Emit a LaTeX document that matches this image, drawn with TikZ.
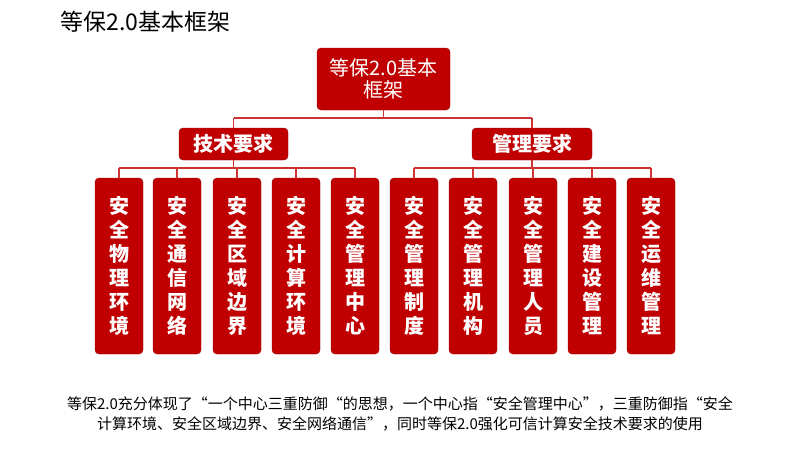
\documentclass[tikz,border=0pt]{standalone}
\usepackage{fontspec}
\setmainfont{Noto Sans CJK SC}
\definecolor{dr}{HTML}{C00000}
\begin{document}
\begin{tikzpicture}[x=1pt,y=-1pt,
 box/.style={fill=dr,draw=dr!80!black,rounded corners=4pt,text=white,inner sep=0pt},
 ln/.style={draw=dr!80!white,line width=1.2pt}]
\useasboundingbox (0,0) rectangle (800,450);
\node[anchor=west,font=\fontsize{23}{25}\selectfont] (title) at (57,22) {等保2.0基本框架};
\node[box,minimum width=133pt,minimum height=62pt,align=center,font=\fontsize{20}{22}\selectfont] (top) at (383.5,79) {等保2.0基本\\框架};
\node[box,minimum width=109pt,minimum height=32pt,font=\bfseries\fontsize{20}{22}\selectfont] (tech) at (233.5,144) {技术要求};
\node[box,minimum width=120pt,minimum height=32pt,font=\bfseries\fontsize{20}{22}\selectfont] (mgmt) at (532,144) {管理要求};
\coordinate (jt) at (383.5,118);
\draw[ln] (top) -- (jt) (tech.north |- jt) -- (mgmt.north |- jt) (tech.north|-jt) -- (tech.north) (mgmt.north|-jt) -- (mgmt.north);
\foreach \i/\x/\t in {1/119/{安\\全\\物\\理\\环\\境},2/177/{安\\全\\通\\信\\网\\络},3/237/{安\\全\\区\\域\\边\\界},4/296/{安\\全\\计\\算\\环\\境},5/355/{安\\全\\管\\理\\中\\心},6/414/{安\\全\\管\\理\\制\\度},7/473/{安\\全\\管\\理\\机\\构},8/533/{安\\全\\管\\理\\人\\员},9/592/{安\\全\\建\\设\\管\\理},10/651/{安\\全\\运\\维\\管\\理}}{
 \node[box,minimum width=48pt,minimum height=176pt,align=center,font=\bfseries\fontsize{20}{24}\selectfont] (b\i) at (\x,266) {\t};
}
\coordinate (lj) at (0,168);
\draw[ln] (b1.north|-lj) -- (b5.north|-lj) (tech) -- (tech|-lj) (b6.north|-lj) -- (b10.north|-lj) (mgmt) -- (mgmt|-lj);
\foreach \i in {1,...,10}{\draw[ln] (b\i.north|-lj) -- (b\i.north);}
\node[align=center,font=\fontsize{15}{20}\selectfont] (desc) at (400,414) {等保2.0充分体现了“一个中心三重防御“的思想，一个中心指“安全管理中心”，三重防御指“安全\\计算环境、安全区域边界、安全网络通信”，同时等保2.0强化可信计算安全技术要求的使用};
\end{tikzpicture}
\end{document}
